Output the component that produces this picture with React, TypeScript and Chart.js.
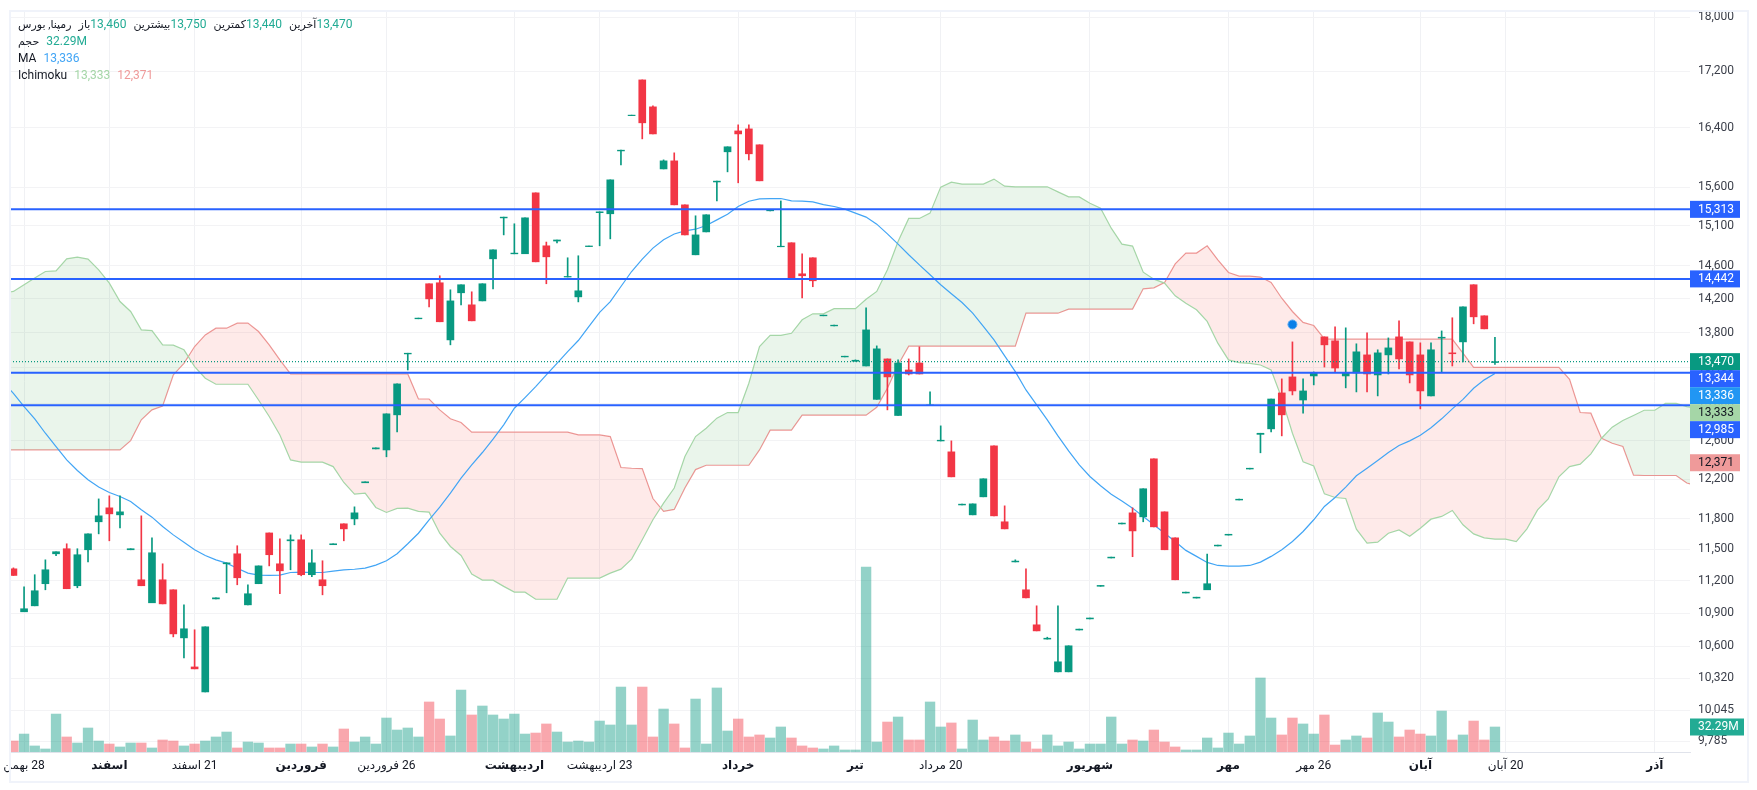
import React, { useEffect, useRef } from 'react';
import { Chart, registerables } from 'chart.js';

Chart.register(...registerables);

const FONT = "Roboto, 'DejaVu Sans', sans-serif";

// candles, one entry per session
const opens = [
  11314, 10912, 10967, 11173, 11458, 11507, 11154, 11497, 11771, 11910,
  11840, 11497, 11210, 10995, 11210, 11116, 10675, 10417, 10200, 11031,
  11362, 11458, 10976, 11173, 11661, 11362, 11584, 11594, 11258, 11210,
  11546, 11751, 11800, 12164, 12516, 12505, 12880, 13558, 13965, 14383,
  14395, 13719, 14274, 14130, 14177, 14688, 15203, 14750, 14751, 15527,
  14850, 14910, 14465, 14225, 14840, 15270, 15256, 16085, 16570, 17076,
  16693, 15843, 15951, 15371, 14738, 15025, 15670, 16073, 16358, 16386,
  16168, 15294, 14838, 14888, 14504, 14701, 14000, 13882, 13524, 13475,
  13421, 13049, 13501, 12873, 13376, 13455, 12980, 12600, 12485, 11939,
  11840, 12021, 12548, 11771, 11380, 11116, 10793, 10664, 10374, 10374,
  10746, 10847, 11149, 11418, 11750, 11860, 11820, 12412, 11870, 11613,
  11086, 11039, 11116, 11534, 11640, 11989, 12306, 12670, 12729, 13120,
  13298, 13042, 13309, 13754, 13708, 13309, 13343, 13547, 13320, 13547,
  13754, 13696, 13547, 13087, 13740, 13570, 13696, 14371, 14000, 13460,
];
const closes = [
  11251, 10940, 11107, 11305, 11478, 11126, 11449, 11652, 11830, 11850,
  11870, 11507, 11154, 11468, 10985, 10711, 10757, 10400, 10775, 11041,
  11371, 11229, 11079, 11342, 11449, 11295, 11594, 11258, 11371, 11154,
  11555, 11701, 11860, 12174, 12527, 12891, 13220, 13566, 13973, 14201,
  13930, 14177, 14371, 13941, 14383, 14800, 15213, 14759, 15204, 14651,
  14713, 14923, 14472, 14298, 14848, 15281, 15698, 16095, 16577, 16470,
  16317, 15951, 15371, 14987, 14987, 15243, 15681, 16141, 16317, 16046,
  15685, 15307, 14845, 14456, 14480, 14419, 14008, 13890, 13532, 13486,
  13835, 13616, 13298, 13455, 13331, 13331, 12988, 12608, 12225, 11947,
  11950, 12205, 11830, 11701, 11388, 11041, 10738, 10672, 10462, 10604,
  10754, 10855, 11157, 11426, 11758, 11681, 12103, 11721, 11497, 11210,
  11094, 11047, 11173, 11542, 11648, 11997, 12314, 12682, 13053, 12880,
  13142, 13142, 13343, 13662, 13398, 13343, 13582, 13331, 13570, 13627,
  13501, 13320, 13142, 13605, 13750, 13560, 14106, 13988, 13847, 13470,
];
const highs = [
  11323, 11144, 11258, 11400, 11478, 11555, 11507, 11652, 12000, 12031,
  12031, 11507, 11830, 11613, 11362, 11116, 10976, 10748, 10775, 11041,
  11371, 11536, 11163, 11342, 11661, 11603, 11642, 11642, 11497, 11391,
  11555, 11751, 11920, 12174, 12527, 12891, 13220, 13566, 13973, 14383,
  14480, 14310, 14371, 14286, 14383, 14800, 15213, 15128, 15204, 15527,
  14897, 14923, 14701, 14726, 14848, 15281, 15698, 16095, 16577, 17076,
  16706, 15964, 16059, 15371, 15230, 15243, 15681, 16141, 16442, 16442,
  16168, 15307, 15422, 14888, 14751, 14701, 14008, 13890, 13532, 13490,
  14095, 13650, 13501, 13490, 13501, 13639, 13131, 12761, 12601, 11947,
  11950, 12205, 12548, 11930, 11400, 11314, 10967, 10681, 10967, 10604,
  10754, 10855, 11157, 11426, 11758, 11910, 12103, 12412, 11870, 11613,
  11094, 11047, 11455, 11542, 11648, 11997, 12314, 12682, 13053, 13276,
  13696, 13276, 13354, 13754, 13871, 13859, 13674, 13800, 13605, 13742,
  13941, 13696, 13685, 13685, 13823, 13977, 14106, 14371, 14000, 13750,
];
const lows = [
  11251, 10912, 10967, 11116, 11439, 11126, 11135, 11381, 11652, 11584,
  11711, 11497, 11154, 10995, 10985, 10684, 10497, 10400, 10200, 11031,
  11088, 11163, 10976, 11173, 11342, 11079, 11305, 11248, 11239, 11069,
  11546, 11584, 11741, 12164, 12516, 12433, 12696, 13376, 13965, 14106,
  13930, 13662, 14130, 13941, 14177, 14322, 14987, 14750, 14751, 14651,
  14383, 14885, 14465, 14165, 14840, 14850, 14937, 15897, 16570, 16249,
  16317, 15843, 15371, 14987, 14738, 15025, 15422, 15804, 15659, 15964,
  15685, 15294, 14838, 14456, 14213, 14347, 14000, 13882, 13524, 13475,
  13421, 13049, 12934, 12873, 13320, 13331, 12980, 12600, 12225, 11939,
  11840, 12021, 11830, 11701, 11380, 11041, 10738, 10664, 10374, 10374,
  10746, 10847, 11149, 11418, 11750, 11430, 11771, 11721, 11497, 11210,
  11086, 11039, 11116, 11534, 11640, 11989, 12306, 12475, 12696, 12654,
  13098, 12898, 13209, 13409, 13354, 13176, 13131, 13131, 13087, 13331,
  13387, 13231, 12945, 13087, 13354, 13421, 13466, 13906, 13847, 13440,
];
// volume in millions
const volumes = [
  14.2, 23.2, 7.8, 3.9, 49, 19.4, 11.6, 31, 14.2, 10.3,
  6.5, 11.6, 11.6, 5.2, 15.5, 14.2, 7.8, 10.3, 14.2, 19.4,
  25.8, 5.2, 12.9, 11.6, 5.2, 5.2, 10.3, 10.3, 6.5, 10.3,
  6.5, 29.7, 12.9, 19.4, 10.3, 43.9, 28.4, 31, 19.4, 64.6,
  42.6, 20.7, 80, 47.8, 59.4, 47.8, 42.6, 49, 23.2, 24.5,
  36.2, 25.8, 12.9, 14.2, 12.9, 40, 34.9, 83.9, 34.9, 83.9,
  19.4, 55.5, 36.2, 5.2, 68.4, 10.3, 82.7, 27.1, 42.6, 19.4,
  22, 18.1, 32.3, 18.1, 7.8, 5.2, 3.9, 7.8, 2.6, 2.6,
  238.9, 12.9, 38.7, 45.2, 15.5, 15.5, 64.6, 32.3, 37.5, 3.9,
  41.3, 15.5, 19.4, 14.2, 22, 12.9, 3.9, 22, 7.8, 12.9,
  3.9, 10.3, 10.3, 45.2, 10.3, 15.5, 14.2, 28.4, 12.9, 6.5,
  2.6, 2.6, 18.1, 5.2, 24.5, 10.3, 20.7, 95.6, 43.9, 22,
  43.9, 36.2, 23.2, 47.8, 9, 15.5, 20.7, 18.1, 50.4, 38.7,
  19.4, 28.4, 23.2, 20.7, 52.9, 15.5, 22, 40, 15.5, 32.29,
];

// these three start one session before the first candle
const maValues = [
  13246, 13116, 12970, 12837, 12682, 12541, 12401, 12290, 12195, 12120, 12065,
  12024, 11973, 11890, 11817, 11724, 11642, 11571, 11497, 11442, 11400,
  11368, 11320, 11273, 11254, 11251, 11254, 11279, 11283, 11279, 11279,
  11292, 11304, 11310, 11320, 11349, 11391, 11458, 11555, 11658, 11791,
  11917, 12058, 12212, 12348, 12478, 12619, 12772, 12952, 13068, 13190,
  13320, 13451, 13585, 13712, 13875, 14040, 14169, 14350, 14532, 14684,
  14821, 14927, 14998, 15038, 15059, 15106, 15178, 15251, 15350, 15418,
  15448, 15453, 15453, 15422, 15418, 15409, 15375, 15350, 15315, 15264,
  15213, 15123, 15000, 14871, 14738, 14613, 14492, 14371, 14262, 14157,
  14031, 13875, 13719, 13535, 13357, 13153, 12988, 12826, 12654, 12495,
  12348, 12229, 12133, 12048, 11980, 11907, 11824, 11741, 11658, 11577,
  11491, 11433, 11375, 11346, 11339, 11339, 11346, 11378, 11433, 11497,
  11577, 11675, 11791, 11924, 12014, 12120, 12236, 12314, 12394, 12478,
  12552, 12601, 12661, 12740, 12837, 12945, 13049, 13172, 13265, 13336,
];
const spanA = [
  14270, 14290, 14371, 14452, 14532, 14540, 14688, 14709, 14684, 14553, 14391,
  14169, 14051, 13835, 13827, 13662, 13658, 13605, 13413, 13283, 13216,
  13216, 13216, 13216, 13042, 12862, 12664, 12401, 12377, 12377, 12377,
  12331, 12167, 12048, 12058, 11914, 11864, 11904, 11907, 11874, 11867,
  11658, 11529, 11442, 11264, 11207, 11207, 11148, 11094, 11094, 11028,
  11028, 11028, 11226, 11226, 11226, 11226, 11273, 11311, 11407, 11594,
  11791, 11957, 12110, 12436, 12647, 12736, 12844, 12905, 12905, 13227,
  13643, 13772, 13772, 13796, 13953, 14024, 14024, 14084, 14084, 14084,
  14197, 14290, 14553, 14904, 15196, 15196, 15264, 15602, 15668, 15642,
  15642, 15642, 15708, 15615, 15606, 15606, 15606, 15606, 15540, 15474,
  15474, 15392, 15328, 15072, 14871, 14846, 14524, 14439, 14391, 14238,
  14150, 14071, 13934, 13681, 13490, 13459, 13451, 13432, 13376, 13060,
  12682, 12380, 12338, 12051, 12014, 12004, 11698, 11561, 11571, 11658,
  11691, 11629, 11708, 11797, 11824, 11884, 11741, 11652, 11613, 11600,
  11600, 11577, 11701, 11890, 12000, 12225, 12331, 12356, 12464, 12629,
  12747, 12819, 12873, 12930, 12930, 13005, 13005, 12970, 12950,
];
const spanB = [
  12505, 12505, 12505, 12505, 12505, 12505, 12505, 12505, 12505, 12505, 12505,
  12505, 12604, 12826, 12934, 12977, 13320, 13451, 13643, 13777, 13855,
  13855, 13914, 13914, 13816, 13662, 13490, 13331, 13331, 13331, 13331,
  13331, 13331, 13331, 13331, 13331, 13331, 13331, 13331, 13053, 13053,
  12934, 12837, 12797, 12693, 12693, 12693, 12693, 12693, 12693, 12693,
  12693, 12693, 12693, 12664, 12664, 12664, 12647, 12321, 12314, 12310,
  12004, 11874, 11894, 12110, 12300, 12345, 12345, 12345, 12345, 12345,
  12505, 12715, 12715, 12715, 12877, 12877, 12877, 12877, 12877, 12877,
  12877, 12963, 13172, 13432, 13647, 13647, 13647, 13647, 13647, 13647,
  13647, 13647, 13647, 13647, 13647, 14031, 14031, 14031, 14031, 14079,
  14079, 14079, 14079, 14079, 14079, 14079, 14322, 14334, 14399, 14626,
  14759, 14759, 14850, 14676, 14520, 14476, 14476, 14464, 14399, 14209,
  14051, 13922, 13886, 13731, 13727, 13727, 13727, 13727, 13727, 13727,
  13727, 13727, 13727, 13727, 13727, 13727, 13566, 13405, 13405, 13405,
  13405, 13405, 13405, 13405, 13405, 13405, 13272, 12905, 12898, 12629,
  12576, 12541, 12242, 12239, 12239, 12239, 12239, 12161, 12130,
];

const levelPrices = [15313, 14442, 13344, 12985];
const lastClose = 13470;
const markerIndex = 120;
const markerPrice = 13898;

const priceTicks = [
  18000, 17200, 16400, 15600, 15100, 14600, 14200, 13800, 13400, 13000,
  12600, 12200, 11800, 11500, 11200, 10900, 10600, 10320, 10045, 9785,
];
const timeTickIndex = [1, 9, 17, 27, 35, 47, 55, 68, 79, 87, 101, 114, 122, 132, 140, 154];
const timeTickText = [
  '28 بهمن', 'اسفند', '21 اسفند', 'فروردین', '26 فروردین', 'اردیبهشت', '23 اردیبهشت', 'خرداد',
  'تیر', '20 مرداد', 'شهریور', 'مهر', '26 مهر', 'آبان', '20 آبان', 'آذر',
];
const timeTickBold = [false, true, false, true, false, true, false, true, true, false, true, true, false, true, false, true];

const GREEN = '#089981';
const RED = '#f23645';
const BLUE = '#2962ff';
const X_MIN = -0.32;
const X_MAX = 157.3;
const fmt = (v: number) => v.toLocaleString('en-US');

// price boxes on the right, pushed down when they would overlap
const priceBoxes = [
  { value: 15313, text: '15,313', bg: BLUE, fg: '#fff' },
  { value: 14442, text: '14,442', bg: BLUE, fg: '#fff' },
  { value: 13470, text: '13,470', bg: GREEN, fg: '#fff' },
  { value: 13344, text: '13,344', bg: BLUE, fg: '#fff' },
  { value: 13336, text: '13,336', bg: '#2196f3', fg: '#fff' },
  { value: 13333, text: '13,333', bg: '#a5d6a7', fg: '#131722' },
  { value: 12985, text: '12,985', bg: BLUE, fg: '#fff' },
  { value: 12371, text: '12,371', bg: '#ef9a9a', fg: '#131722' },
];

const boxesPlugin = {
  id: 'priceBoxes',
  afterDraw(chart: any) {
    const { ctx, chartArea, scales } = chart;
    const h = 17;
    ctx.save();
    ctx.font = `12px ${FONT}`;
    ctx.textBaseline = 'middle';
    ctx.textAlign = 'left';
    let prev = -Infinity;
    for (const b of priceBoxes) {
      const y = Math.max(scales.y.getPixelForValue(b.value), prev + h);
      prev = y;
      ctx.fillStyle = b.bg;
      ctx.fillRect(chartArea.right, y - h / 2, 50, h);
      ctx.fillStyle = b.fg;
      ctx.fillText(b.text, chartArea.right + 8, y + 0.5);
    }
    const vy = scales.vol.getPixelForValue(volumes[volumes.length - 1]);
    ctx.fillStyle = '#22ab94';
    ctx.fillRect(chartArea.right, vy - h / 2, 54, h);
    ctx.fillStyle = '#fff';
    ctx.fillText('32.29M', chartArea.right + 8, vy + 0.5);
    ctx.restore();
  },
};

const legendName = { color: '#131722' };
const legendLabel = { color: '#131722', fontSize: 11 };
const legendGreen = { color: '#22ab94', marginRight: 7 };

export default function App() {
  const canvasRef = useRef<HTMLCanvasElement>(null);

  useEffect(() => {
    if (!canvasRef.current) return;
    const isUp = (i: number) => closes[i] >= opens[i];
    const candleColors = opens.map((_, i) => (isUp(i) ? GREEN : RED));
    const volumeColors = opens.map((_, i) => (isUp(i) ? 'rgba(8,153,129,0.44)' : 'rgba(242,54,69,0.44)'));
    const fromIndex = (values: number[]) => values.map((y, k) => ({ x: k - 1, y }));

    const chart = new Chart(canvasRef.current, {
      type: 'bar',
      data: {
        datasets: [
          ...levelPrices.map((p) => ({
            type: 'line',
            data: [{ x: X_MIN, y: p }, { x: X_MAX, y: p }],
            borderColor: BLUE,
            borderWidth: 2,
            pointRadius: 0,
            order: 1,
          })),
          {
            type: 'line',
            data: [{ x: X_MIN, y: lastClose }, { x: X_MAX, y: lastClose }],
            borderColor: GREEN,
            borderWidth: 1.3,
            borderDash: [1, 2],
            pointRadius: 0,
            order: 2,
          },
          {
            type: 'line',
            data: [{ x: markerIndex, y: markerPrice }],
            showLine: false,
            pointRadius: 4.5,
            pointBackgroundColor: '#0a7fe8',
            pointBorderColor: '#5aa9f0',
            pointBorderWidth: 1,
            order: 0,
          },
          {
            label: 'body',
            data: opens.map((o, i) => ({ x: i, y: [o, closes[i]] })),
            backgroundColor: candleColors,
            barThickness: 7,
            grouped: false,
            order: 3,
          },
          {
            label: 'wick',
            data: lows.map((l, i) => ({ x: i, y: [l, highs[i]] })),
            backgroundColor: candleColors,
            barThickness: 1,
            grouped: false,
            order: 3,
          },
          {
            type: 'line',
            label: 'MA',
            data: fromIndex(maValues),
            borderColor: '#42a5f5',
            borderWidth: 1.2,
            pointRadius: 0,
            order: 4,
          },
          {
            type: 'line',
            label: 'span A',
            data: fromIndex(spanA),
            borderColor: '#a5d6a7',
            borderWidth: 1.2,
            pointRadius: 0,
            fill: { target: '+1', above: 'rgba(67,160,71,0.11)', below: 'rgba(244,67,54,0.11)' },
            order: 5,
          },
          {
            type: 'line',
            label: 'span B',
            data: fromIndex(spanB),
            borderColor: '#ef9a9a',
            borderWidth: 1.2,
            pointRadius: 0,
            order: 5,
          },
          {
            label: 'volume',
            data: volumes.map((v, i) => ({ x: i, y: v })),
            yAxisID: 'vol',
            backgroundColor: volumeColors,
            barThickness: 9.7,
            grouped: false,
            order: 6,
          },
        ] as any,
      },
      options: {
        animation: false,
        responsive: false,
        devicePixelRatio: 1,
        layout: { padding: { left: 10, right: 10, top: 11, bottom: 10 } },
        plugins: { legend: { display: false }, tooltip: { enabled: false } },
        scales: {
          x: {
            type: 'linear',
            offset: false,
            min: X_MIN,
            max: X_MAX,
            afterFit: (s: any) => {
              s.height = 28;
              s.paddingLeft = 0;
              s.paddingRight = 0;
            },
            afterBuildTicks: (s: any) => { s.ticks = timeTickIndex.map((value) => ({ value })); },
            grid: { color: '#f0f1f4', drawTicks: false, offset: false },
            border: { color: '#e0e3eb' },
            ticks: {
              autoSkip: false,
              maxRotation: 0,
              padding: 7,
              color: '#131722',
              font: (c: any) => ({
                family: FONT,
                size: 12,
                weight: timeTickBold[timeTickIndex.indexOf(c.tick?.value)] ? 'bold' : 'normal',
              }),
              callback: (v: any) => timeTickText[timeTickIndex.indexOf(v)] ?? '',
            },
          },
          y: {
            type: 'logarithmic',
            position: 'right',
            min: 9697,
            max: 18096,
            afterFit: (s: any) => {
              s.width = 57;
              s.paddingTop = 0;
              s.paddingBottom = 0;
            },
            afterBuildTicks: (s: any) => { s.ticks = priceTicks.map((value) => ({ value })); },
            grid: { color: '#f3f3f5', drawTicks: false },
            border: { display: false },
            ticks: {
              autoSkip: false,
              padding: 8,
              color: '#3a3e49',
              font: { family: FONT, size: 12 },
              callback: (v: any) => fmt(Number(v)),
            },
          },
          vol: { type: 'linear', display: false, min: 0, max: 957 },
        },
      } as any,
      plugins: [boxesPlugin],
    });

    return () => chart.destroy();
  }, []);

  const row: React.CSSProperties = { height: 17, lineHeight: '17px', display: 'flex', whiteSpace: 'nowrap' };

  return (
    <div style={{ position: 'fixed', left: 0, top: 0, width: 1757, height: 790, background: '#fff', overflow: 'hidden' }}>
      <canvas ref={canvasRef} dir="rtl" width={1757} height={790} style={{ position: 'absolute', left: 0, top: 0, display: 'block' }} />
      <div style={{ position: 'absolute', left: 9, top: 10, width: 1736, height: 769, border: '2px solid #f0f3fa', pointerEvents: 'none' }} />
      <div style={{ position: 'absolute', left: 18, top: 16, fontFamily: FONT, fontSize: 12 }}>
        <div style={row}>
          <span style={{ ...legendLabel, marginRight: 7 }}>رمپنا, بورس</span>
          <span style={legendLabel}>باز</span>
          <span style={legendGreen}>13,460</span>
          <span style={legendLabel}>بیشترین</span>
          <span style={legendGreen}>13,750</span>
          <span style={legendLabel}>کمترین</span>
          <span style={legendGreen}>13,440</span>
          <span style={legendLabel}>آخرین</span>
          <span style={legendGreen}>13,470</span>
        </div>
        <div style={row}>
          <span style={{ ...legendLabel, marginRight: 7 }}>حجم</span>
          <span style={legendGreen}>32.29M</span>
        </div>
        <div style={row}>
          <span style={{ ...legendName, marginRight: 7 }}>MA</span>
          <span style={{ color: '#42a5f5' }}>13,336</span>
        </div>
        <div style={row}>
          <span style={{ ...legendName, marginRight: 7 }}>Ichimoku</span>
          <span style={{ color: '#a5d6a7', marginRight: 7 }}>13,333</span>
          <span style={{ color: '#ef9a9a' }}>12,371</span>
        </div>
      </div>
    </div>
  );
}
